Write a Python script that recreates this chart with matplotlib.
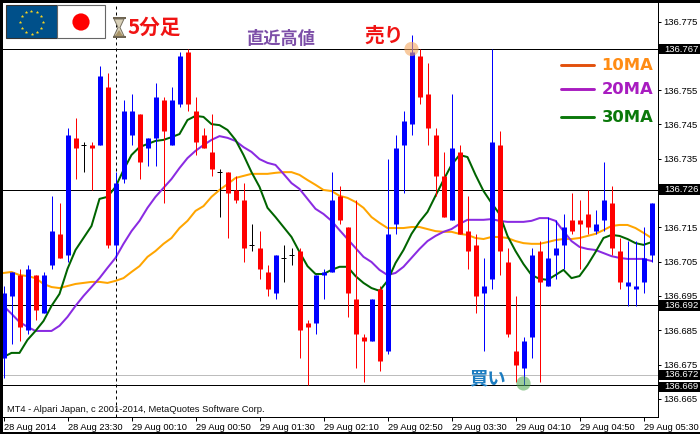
import matplotlib
matplotlib.use("Agg")
import matplotlib.pyplot as plt
import numpy as np
from matplotlib.patches import Rectangle, Circle, Polygon

plt.rcParams['font.family'] = ['Liberation Sans', 'DejaVu Sans']
CJK = ['Noto Sans CJK JP', 'DejaVu Sans']

# All prices are thousandths above 136.000 (700 -> 136.700)
opens = [677,695,701,685,701,690,704,713,707,741,739,739,739,756,710,729,742,748,738,741,
         752,739,751,766,749,742,737,731,731,726,723,710,709,702,696,706,707,708,687,687,
         701,702,724,715,694,683,682,697,679,716,739,745,765,754,742,730,717,737,714,710,
         696,700,739,705,679,674,683,708,698,707,710,717,717,719,714,717,722,708,698,697,
         699,707]
highs = [698,702,703,704,701,702,724,722,744,747,740,740,762,760,731,752,754,748,741,757,
         753,756,766,767,753,744,748,732,731,730,728,716,714,704,707,710,709,709,688,701,
         703,731,727,715,723,684,694,698,735,742,749,771,767,763,744,737,754,739,724,713,
         706,767,743,709,695,683,709,711,718,717,719,725,723,726,720,734,727,712,711,711,
         715,722]
lows =  [671,681,682,684,688,690,703,706,705,729,731,726,739,709,706,728,739,729,733,733,
         722,739,750,749,736,738,730,718,712,722,705,708,700,695,694,699,704,677,669,684,
         694,702,716,689,674,670,682,673,678,713,725,742,751,739,724,718,717,713,703,690,
         679,697,701,683,670,669,677,670,698,700,703,713,703,713,713,714,707,697,692,692,
         696,705]
closes = [696,702,686,703,691,701,714,706,742,738,739,738,759,710,728,749,749,734,741,753,
          743,752,765,751,740,738,732,731,725,723,709,710,703,697,707,706,707,685,686,701,
          702,723,717,696,684,682,694,676,713,738,746,766,753,744,730,718,738,713,708,695,
          698,740,708,684,675,682,707,699,706,709,715,714,716,715,716,723,709,699,699,698,
          706,722]

ma_orange = [701.7,702.0,701.1,700.8,700.2,698.5,697.6,697.3,697.9,698.5,698.8,699.1,699.1,698.8,
             699.4,700.2,702.0,703.7,706.4,708.1,710.2,711.9,714.8,716.9,719.8,721.2,723.9,725.9,
             727.6,729.4,730.0,730.6,730.6,730.6,730.9,731.1,731.1,730.3,728.8,727.4,725.9,725.6,
             724.2,723.6,722.4,720.7,718.0,716.3,714.8,714.8,714.8,715.1,715.1,714.5,713.9,713.7,
             713.7,713.1,712.8,711.9,711.6,712.2,712.2,711.9,711.0,710.4,710.2,710.2,710.7,711.3,
             711.6,711.6,711.9,712.5,713.1,714.2,715.4,715.7,715.7,714.8,713.4,711.9]
ma_purple = [692.1,689.8,687.4,686.0,684.8,684.8,684.8,686.3,688.9,692.1,695.0,697.6,700.2,703.2,
             706.1,710.2,713.9,716.9,720.7,723.9,726.5,729.1,732.3,735.2,737.3,739.0,740.5,741.6,
             741.1,740.2,738.4,737.0,734.9,733.8,733.2,730.6,727.9,726.2,723.3,720.4,718.9,716.9,
             714.2,711.6,709.0,706.4,704.9,702.6,701.1,701.7,703.5,706.1,708.7,711.0,712.5,713.7,
             714.5,716.0,717.2,717.2,717.2,717.4,716.9,716.6,716.6,716.6,716.9,717.7,717.7,716.9,
             713.9,711.0,709.3,708.7,708.4,707.5,706.6,706.1,705.8,705.8,705.8,705.2]
ma_green = [677.2,678.4,678.4,682.2,684.8,687.7,692.1,695.6,702.9,708.4,711.9,715.4,723.3,723.9,
            726.8,731.7,736.1,738.4,739.3,740.2,740.5,741.3,742.2,746.3,747.5,747.2,745.1,744.8,
            743.4,740.5,736.1,731.1,726.8,720.7,718.0,715.1,712.2,707.8,703.7,701.4,701.4,702.6,
            703.5,703.5,700.8,698.8,697.3,696.5,699.4,704.6,708.4,713.1,716.6,719.5,724.2,728.8,
            733.2,736.1,735.5,730.3,725.6,722.1,718.9,712.5,708.1,704.3,701.1,700.0,699.7,701.1,
            702.6,700.2,700.8,704.0,707.8,711.9,712.8,712.5,711.6,710.4,709.9,710.7]

price_ticks = [136.775,136.755,136.745,136.735,136.715,136.705,136.695,136.685,136.675,136.665]
hidden_ticks = [136.765,136.725]
time_labels = ['28 Aug 2014','28 Aug 23:30','29 Aug 00:10','29 Aug 00:50','29 Aug 01:30','29 Aug 02:10',
               '29 Aug 02:50','29 Aug 03:30','29 Aug 04:10','29 Aug 04:50','29 Aug 05:30']
black_levels = [136.767,136.726,136.6923,136.669]
black_labels = ['136.767','136.726','136.692','136.669']
gray_level = 136.672
gray_label = '136.672'

def px(a):
    return 136 + np.asarray(a, dtype=float) / 1000

o, h, l, c = px(opens), px(highs), px(lows), px(closes)
xs = np.arange(len(o))

W, H = 700, 434
fig = plt.figure(figsize=(W/100, H/100), dpi=100, facecolor='white')
L, R, T, B = 3, 657.5, 3, 416.5
X0 = 3.5
ax = fig.add_axes([L/W, 1-B/H, (R-L)/W, (B-T)/H])
ax.set_xlim((L-X0)/8, (R-X0)/8)
ytop = 136.767 + (49-T)/3430
ybot = 136.767 - (B-49)/3430
ax.set_ylim(ybot, ytop)

# reference lines below candles
for lv in black_levels:
    ax.axhline(lv, color='black', lw=0.72, zorder=1.5)
ax.axhline(gray_level, color='#bdbdbd', lw=0.72, zorder=1.4)
ax.axvline(14, color='black', lw=0.72, ls=(0, (3, 3)), zorder=1.6)

# moving averages
ax.plot(xs, px(ma_orange), color='#ffa500', lw=1.45, zorder=2)
ax.plot(xs, px(ma_purple), color='#8a2be2', lw=1.45, zorder=2.1)
ax.plot(xs, px(ma_green), color='#006400', lw=1.45, zorder=2.2)

# candles
colors = np.array(['blue' if cc > oo else 'red' if cc < oo else 'black' for oo, cc in zip(o, c)])
ax.vlines(xs, l, h, colors=colors, lw=0.72, zorder=3)
body = colors != 'black'
ax.vlines(xs[body], np.minimum(o, c)[body], np.maximum(o, c)[body], colors=colors[body],
          lw=3.6, zorder=3, capstyle='butt')
ax.hlines(o[~body], xs[~body]-0.31, xs[~body]+0.31, colors='black', lw=0.72, zorder=3)

# highlight circles
ax.scatter([51], [136.767], s=105, color='#f4a860', alpha=0.6, edgecolors='none', zorder=4)
ax.scatter([65], [136.6695], s=105, color='#4ca64c', alpha=0.55, edgecolors='none', zorder=4)

# axes / ticks
for s in ('top', 'left'):
    ax.spines[s].set_visible(False)
for s in ('right', 'bottom'):
    ax.spines[s].set_linewidth(0.72)
    ax.spines[s].set_zorder(6)
ax.yaxis.tick_right()
ax.set_yticks(price_ticks)
ax.set_yticklabels([f'{p:.3f}' for p in price_ticks], fontsize=6.8, color='black')
ax.tick_params(axis='y', length=2.2, width=0.72, pad=2.2)
ax.set_xticks(np.arange(0, 88, 8)[:len(time_labels)])
ax.set_xticklabels(time_labels, fontsize=6.7, ha='left', color='black')
ax.tick_params(axis='x', length=2.8, width=0.72, pad=2.2)

# black price labels
ytrans = ax.get_yaxis_transform()
for yc, lab in [(136.767, black_labels[0]), (136.726, black_labels[1]), (136.6923, black_labels[2]),
                (gray_level, gray_label), (136.6685, black_labels[3])]:
    ax.add_patch(Rectangle((1.0023, yc-0.00155), 0.0640, 0.0031, transform=ytrans, facecolor='black',
                           edgecolor='none', clip_on=False, zorder=7))
    ax.text(1.0098, yc, lab, transform=ytrans, color='white', fontsize=6.8, va='center', ha='left',
            clip_on=False, zorder=8)

# overlay in pixel coordinates for decoration
ov = fig.add_axes([0, 0, 1, 1], facecolor='none')
ov.set_xlim(0, W); ov.set_ylim(H, 0); ov.axis('off')
ov.add_patch(Rectangle((0, 0), W, 3, facecolor='black', edgecolor='none'))
ov.add_patch(Rectangle((0, 0), 3, H, facecolor='black', edgecolor='none'))
ov.add_patch(Rectangle((0, 432), W, 2, facecolor='black', edgecolor='none'))

# flags
ov.add_patch(Rectangle((6, 5), 51, 33, facecolor='#00508a', edgecolor='#333333', lw=0.8))
ov.add_patch(Rectangle((57, 5), 48, 33, facecolor='white', edgecolor='#666666', lw=0.8))
ov.add_patch(Circle((81, 22), 8.6, facecolor='#ff0000', edgecolor='none'))
ang = np.deg2rad(np.arange(0, 360, 30))
ov.scatter(31.5 + 11.5*np.cos(ang), 22 + 11.5*np.sin(ang), s=3.5, marker='*', color='#ffd820', linewidths=0.2)

# hourglass
ov.add_patch(Rectangle((112.5, 17), 13, 2, facecolor='#6e6450', edgecolor='none'))
ov.add_patch(Rectangle((112.5, 36), 13, 2, facecolor='#6e6450', edgecolor='none'))
ov.add_patch(Polygon([(114, 19), (124, 19), (120, 27.5), (124, 36), (114, 36), (118, 27.5)],
                     facecolor='#d8d0b8', edgecolor='#777060', lw=0.7))
ov.add_patch(Polygon([(115, 36), (123, 36), (119, 30)], facecolor='#a89468', edgecolor='none'))

# Japanese annotations
ov.text(127.5, 27, '5分足', color='#f01414', fontsize=14.8, fontweight='bold', family=CJK, va='center', ha='left')
ov.text(246, 38.5, '直近高値', color='#7d4fa8', fontsize=12.4, fontweight='bold', family=CJK, va='center', ha='left')
ov.text(364.5, 36, '売り', color='#f01414', fontsize=14.2, fontweight='bold', family=CJK, va='center', ha='left')
ov.text(469, 378.5, '買い', color='#1c7cc0', fontsize=13.2, fontweight='bold', family=CJK, va='center', ha='left')

# MA legend
for y, lc, tc, lab in [(65, '#e2500c', '#ff8c14', '10MA'), (89, '#a81cc0', '#a81cc0', '20MA'), (116.5, '#0a780a', '#0a780a', '30MA')]:
    ov.plot([561, 594], [y, y], color=lc, lw=2.1, solid_capstyle='round')
    ov.text(601.5, y+0.5, lab, color=tc, fontsize=11.8, fontweight='bold', family='DejaVu Sans', va='center', ha='left')

ov.text(7, 409, 'MT4 - Alpari Japan, c 2001-2014, MetaQuotes Software Corp.', fontsize=6.75, color='#111111', va='center', ha='left')

fig.savefig('out.png', dpi=100, facecolor='white')
